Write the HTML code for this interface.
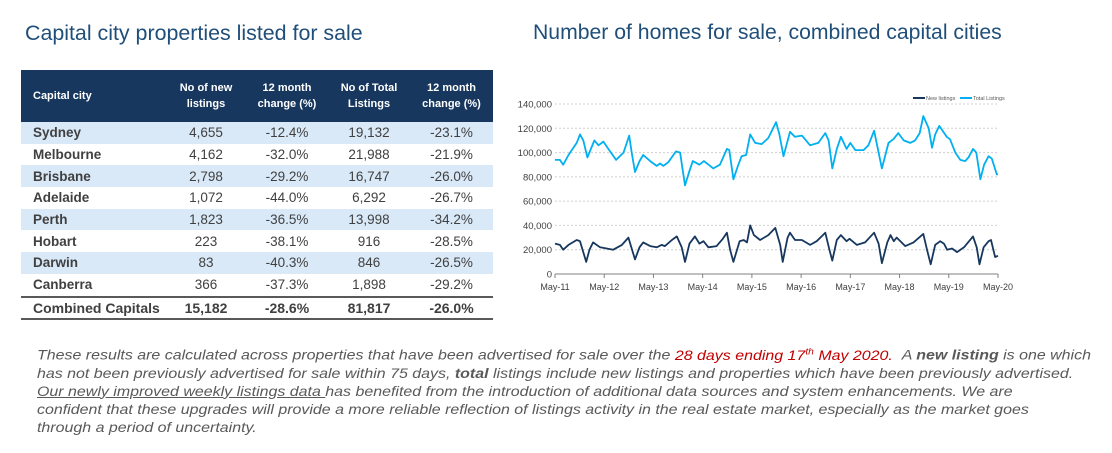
<!DOCTYPE html>
<html><head><meta charset="utf-8"><style>
body{margin:0;width:1112px;height:453px;background:#fff;position:relative;overflow:hidden;font-family:"Liberation Sans",sans-serif}
.title{position:absolute;top:21px;color:#1f4e79;white-space:nowrap}
table{position:absolute;left:21px;top:70px;width:472px;border-collapse:collapse;font-size:13.5px;color:#404040;table-layout:fixed}
th{background:#17375e;color:#fff;font-size:11px;font-weight:bold;height:52px;padding:0;text-align:center;line-height:16px}
th.c{text-align:left;padding-left:12px}
td{height:21.7px;padding:0;text-align:center;white-space:nowrap}
td.c{text-align:left;padding-left:12px;font-weight:bold}
tr.s td{background:#d9e9f8}
tr.tot td{font-weight:bold;border-top:2px solid #595959;border-bottom:2px solid #595959;font-size:14px;height:20px}
.para{position:absolute;left:37px;top:342px;font-size:14px;font-style:italic;color:#595959;line-height:18px;transform:scaleX(1.14);transform-origin:0 0}
.para div{white-space:nowrap}
</style></head><body>
<div class="title" style="left:25px;font-size:21.4px">Capital city properties listed for sale</div>
<div class="title" style="left:533px;font-size:21.2px">Number of homes for sale, combined capital cities</div>
<table>
<colgroup><col style="width:145px"><col style="width:80px"><col style="width:82px"><col style="width:82px"><col style="width:83px"></colgroup>
<tr><th class="c">Capital city</th><th>No of new<br>listings</th><th>12 month<br>change (%)</th><th>No of Total<br>Listings</th><th>12 month<br>change (%)</th></tr>
<tr class="s"><td class="c">Sydney</td><td>4,655</td><td>-12.4%</td><td>19,132</td><td>-23.1%</td></tr>
<tr><td class="c">Melbourne</td><td>4,162</td><td>-32.0%</td><td>21,988</td><td>-21.9%</td></tr>
<tr class="s"><td class="c">Brisbane</td><td>2,798</td><td>-29.2%</td><td>16,747</td><td>-26.0%</td></tr>
<tr><td class="c">Adelaide</td><td>1,072</td><td>-44.0%</td><td>6,292</td><td>-26.7%</td></tr>
<tr class="s"><td class="c">Perth</td><td>1,823</td><td>-36.5%</td><td>13,998</td><td>-34.2%</td></tr>
<tr><td class="c">Hobart</td><td>223</td><td>-38.1%</td><td>916</td><td>-28.5%</td></tr>
<tr class="s"><td class="c">Darwin</td><td>83</td><td>-40.3%</td><td>846</td><td>-26.5%</td></tr>
<tr><td class="c">Canberra</td><td>366</td><td>-37.3%</td><td>1,898</td><td>-29.2%</td></tr>
<tr class="tot"><td class="c">Combined Capitals</td><td>15,182</td><td>-28.6%</td><td>81,817</td><td>-26.0%</td></tr>
</table>
<svg id="chart" width="1112" height="453" style="position:absolute;left:0;top:0"></svg>
<div class="para">
<div>These results are calculated across properties that have been advertised for sale over the <span style="color:#c00000">28 days ending 17<sup style="font-size:9px">th</sup> May 2020.</span> &nbsp;A <b>new listing</b> is one which</div>
<div>has not been previously advertised for sale within 75 days, <b>total</b> listings include new listings and properties which have been previously advertised.</div>
<div><u>Our newly improved weekly listings data </u>has benefited from the introduction of additional data sources and system enhancements. We are</div>
<div>confident that these upgrades will provide a more reliable reflection of listings activity in the real estate market, especially as the market goes</div>
<div>through a period of uncertainty.</div>
</div>
<script>
const xLabels=["May-11","May-12","May-13","May-14","May-15","May-16","May-17","May-18","May-19","May-20"];
const yTicks=[0,20000,40000,60000,80000,100000,120000,140000];
const totalMonths=[0,1.2,2,3.3,5.3,6.1,6.9,7.9,9.6,10.6,11.8,13,14.9,16.7,18.1,18.7,19.5,20.6,21.5,23.2,24.8,25.6,26.4,27.6,29.5,30.5,31.7,32.8,33.6,35.2,36.3,38.6,40.2,41.9,42.5,43.5,44.5,45.5,46.6,47.6,48.8,50.4,52,53.9,54.7,55.7,57.3,58.5,60.2,62.2,64.2,65.9,66.7,67.6,68.7,69.7,71.1,72,73.2,75.2,76.4,77.8,78.9,79.7,81.3,82.5,83.7,85,86.6,87.8,88.9,89.8,91.1,91.9,92.7,93.7,95.5,96.3,97.6,98.8,100,100.8,101.9,102.7,103.7,104.6,105.7,106.5,107.7,108];
const totalValues=[94,94,90,98,108,115,110,96,110,106,109,103,94,100,114,100,84,93,98,93,89,91,89,92,101,100,73,85,93,90,93,87,90,103,102,78,88,97,98,115,108,107,112,125,115,97,117,113,114,106,108,116,110,87,103,113,103,108,102,102,106,118,100,87,108,111,116,110,108,110,116,130,120,104,115,122,113,111,100,94,93,96,103,100,78,90,97,95,82,82];
const newMonths=[0,1.2,2,3.3,5.3,6.1,7.6,8.4,9.3,11,12.6,14.2,16.3,17.9,19.5,20.6,21.5,23.2,24.8,26,26.8,28.5,29.7,30.9,31.7,32.8,34.1,35.2,36.2,37.4,39.4,40.9,41.9,42.7,43.5,45,46,46.8,47.6,48.5,50,52,53.7,54.9,55.5,56.7,57.3,58.5,60.2,62.2,63.8,65.3,65.9,66.9,67.6,68.7,69.7,71.1,71.8,73.6,75.6,77.8,78.9,79.7,81,81.8,82.6,83.3,85.4,87.4,89.8,90.7,91.6,92.7,93.9,94.8,95.6,96.8,98,99.7,101.9,102.8,103.5,104.5,105.7,106.3,107.3,108];
const newValues=[25,24,20,24,28,27,10,20,26,22,21,20,24,30,12,22,26,23,22,24,23,28,31,22,10,25,31,25,27,22,23,29,34,20,10,27,28,26,40,32,28,32,38,24,10,30,34,28,28,24,27,32,34,20,11,28,32,27,29,24,26,34,25,9,26,32,27,30,23,26,33,20,8,24,27,25,20,21,18,22,31,22,8,22,27,28,14,15];
const svg=document.getElementById('chart');const NS='http://www.w3.org/2000/svg';
const X0=555,X1=998,Y0=274,Y1=104;
const xs=m=>X0+(X1-X0)*m/108;
const ys=v=>Y0-(Y0-Y1)*v/140000;
function mk(t,a){const e=document.createElementNS(NS,t);for(const k in a)e.setAttribute(k,a[k]);svg.appendChild(e);return e;}
yTicks.forEach((v,i)=>{
 if(v>0){const g=mk('line',{x1:X0,x2:X1,y1:ys(v),y2:ys(v),stroke:'#d0d0d0','stroke-dasharray':'2,2'});
 
 }
 const t=mk('text',{x:X0-3,y:ys(v)+3.5,'text-anchor':'end','font-size':'9.5','fill':'#404040','font-family':'Liberation Sans'});t.textContent=v.toLocaleString('en-US');
 
 
});
const ax=mk('line',{x1:X0,x2:X1,y1:Y0,y2:Y0,stroke:'#808080'});


xLabels.forEach((l,i)=>{const x=xs(i*12);
 mk('line',{x1:x,x2:x,y1:Y0,y2:Y0+4,stroke:'#808080'});
 const t=mk('text',{x:x,y:Y0+16,'text-anchor':'middle','font-size':'9','fill':'#404040','font-family':'Liberation Sans'});t.textContent=l;
 
 });
function line(ms,vs,c,n){const d=ms.map((m,i)=>(i?'L':'M')+xs(m).toFixed(1)+','+ys(vs[i]*1000).toFixed(1)).join('');
 const p=mk('path',{d:d,fill:'none',stroke:c,'stroke-width':'1.8','stroke-linejoin':'round'});
 
 }
line(totalMonths,totalValues,'#00b0f0','total-listings-line');
line(newMonths,newValues,'#17375e','new-listings-line');
const lg=[['New listings','#17375e',913],['Total Listings','#00b0f0',960]];
lg.forEach(([n,c,x])=>{mk('line',{x1:x,x2:x+12,y1:98,y2:98,stroke:c,'stroke-width':'2'});
 const t=mk('text',{x:x+13,y:100,'font-size':'5.5','fill':'#595959','font-family':'Liberation Sans'});t.textContent=n;
 
 });
</script>
</body></html>
